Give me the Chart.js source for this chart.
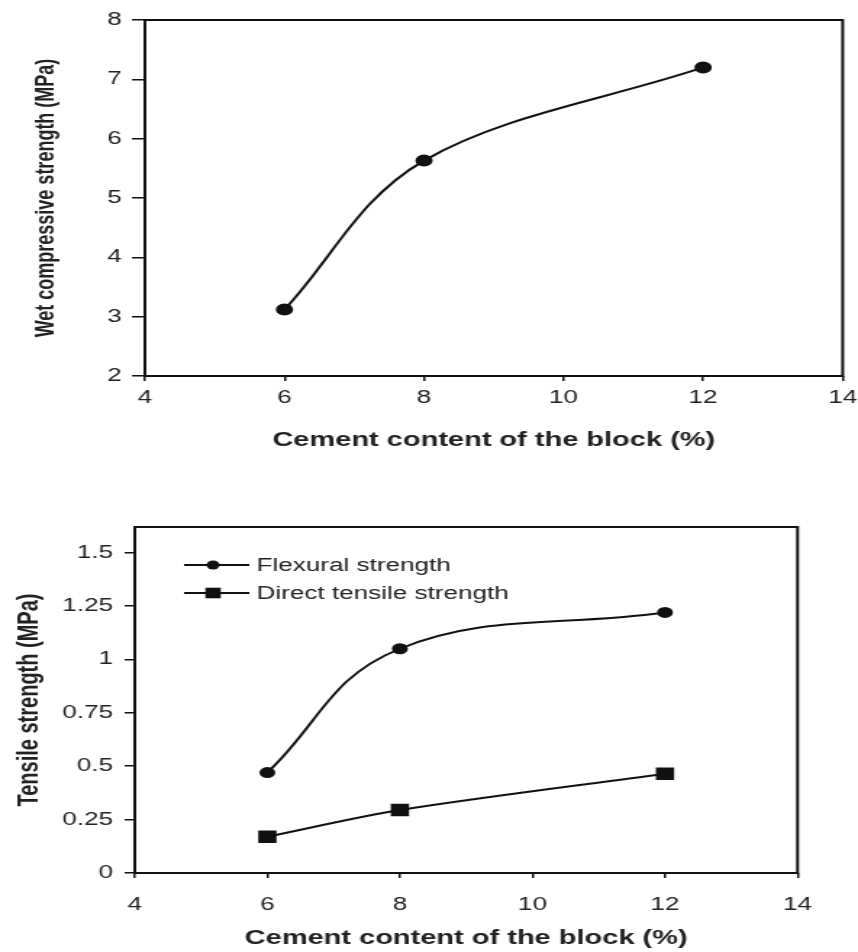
<!DOCTYPE html>
<html>
<head>
<meta charset="utf-8">
<script src="https://cdn.jsdelivr.net/npm/chart.js@4/dist/chart.umd.min.js"></script>
<style>
  body { margin: 0; background: #fff; }
  canvas { display: block; }
</style>
</head>
<body>
<!-- the original figure is stretched sideways, so the canvases are drawn narrow and widened by css -->
<canvas id="wetChart" width="592" height="470" style="width:858px;height:470px"></canvas>
<canvas id="tensileChart" width="592" height="482" style="width:858px;height:482px"></canvas>
<script>
// values
const cementContent = [6, 8, 12];
const wetCompressive = [3.12, 5.63, 7.2];
const flexural = [0.47, 1.05, 1.22];
const directTensile = [0.17, 0.295, 0.465];

const xTicks = [4, 6, 8, 10, 12, 14];
const yTicksTop = [2, 3, 4, 5, 6, 7, 8];
const yTicksBottom = [0, 0.25, 0.5, 0.75, 1, 1.25, 1.5];
const yLabelsBottom = ['0', '0.25', '0.5', '0.75', '1', '1.25', '1.5'];

const seriesNames = ['Flexural strength', 'Direct tensile strength'];

function toPoints(values) {
    return cementContent.map((x, i) => ({x: x, y: values[i]}));
}

const FONT = 'Liberation Sans, Arial, sans-serif';
const TEXT = '#222';

// box round the plot area
const frame = {
    id: 'frame',
    afterDatasetsDraw(chart) {
        const a = chart.chartArea;
        const ctx = chart.ctx;
        ctx.save();
        ctx.strokeStyle = '#111';
        ctx.lineWidth = 2;
        ctx.strokeRect(a.left, a.top, a.right - a.left, a.bottom - a.top);
        ctx.restore();
    }
};

// legend inside the plot, upper left
const innerLegend = {
    id: 'innerLegend',
    afterDraw(chart) {
        const a = chart.chartArea;
        const ctx = chart.ctx;
        chart.data.datasets.forEach((ds, i) => {
            const x = a.left + 34;
            const y = a.top + 38 + i * 28;
            ctx.save();
            ctx.strokeStyle = ds.borderColor;
            ctx.fillStyle = ds.pointBackgroundColor;
            ctx.lineWidth = 2;
            ctx.beginPath();
            ctx.moveTo(x, y);
            ctx.lineTo(x + 45, y);
            ctx.stroke();
            const r = ds.pointRadius;
            if (ds.pointStyle === 'rect') {
                const s = r * Math.SQRT1_2;
                ctx.fillRect(x + 20 - s, y - s, 2 * s, 2 * s);
            } else {
                ctx.beginPath();
                ctx.arc(x + 20, y, r, 0, Math.PI * 2);
                ctx.fill();
            }
            ctx.fillStyle = TEXT;
            ctx.font = '18px ' + FONT;
            ctx.textBaseline = 'middle';
            ctx.fillText(ds.label, x + 50, y + 1);
            ctx.restore();
        });
    }
};

function xScale(height, labelPad, titlePad) {
    return {
        type: 'linear',
        min: 4,
        max: 14,
        afterBuildTicks: (axis) => { axis.ticks = xTicks.map(v => ({value: v})); },
        afterFit: (axis) => { axis.height = height; axis.paddingLeft = 0; axis.paddingRight = 0; },
        grid: { display: true, drawOnChartArea: false, drawTicks: true, tickLength: 5, color: '#111', lineWidth: 1.5 },
        border: { display: false },
        ticks: { color: TEXT, padding: labelPad, maxRotation: 0, font: { family: FONT, size: 18 } },
        title: {
            display: true,
            text: 'Cement content of the block (%)',
            color: TEXT,
            font: { family: FONT, size: 20, weight: 'bold' },
            padding: { top: 0, bottom: titlePad }
        }
    };
}

new Chart(document.getElementById('wetChart'), {
    type: 'line',
    data: {
        datasets: [{
            label: 'Wet compressive strength',
            data: toPoints(wetCompressive),
            borderColor: '#111',
            borderWidth: 2,
            tension: 0.35,
            pointStyle: 'circle',
            pointRadius: 5,
            pointBackgroundColor: '#111',
            pointBorderColor: '#111'
        }]
    },
    options: {
        responsive: false,
        devicePixelRatio: 1,
        animation: false,
        layout: { padding: { left: 0, top: 20, right: 10.6, bottom: 0 } },
        plugins: { legend: { display: false }, tooltip: { enabled: false } },
        scales: {
            x: xScale(94, 6, 18),
            y: {
                min: 2,
                max: 8,
                afterBuildTicks: (axis) => { axis.ticks = yTicksTop.map(v => ({value: v})); },
                afterFit: (axis) => { axis.width = 100; axis.paddingTop = 0; axis.paddingBottom = 0; },
                grid: { display: true, drawOnChartArea: false, drawTicks: true, tickLength: 9, color: '#111', lineWidth: 1.5 },
                border: { display: false },
                ticks: { color: TEXT, padding: 7, font: { family: FONT, size: 18 } },
                title: {
                    display: true,
                    text: 'Wet compressive strength (MPa)',
                    color: TEXT,
                    font: { family: FONT, size: 18, weight: 'bold' },
                    padding: { top: 21, bottom: 0 }
                }
            }
        }
    },
    plugins: [frame]
});

new Chart(document.getElementById('tensileChart'), {
    type: 'line',
    data: {
        datasets: [{
            label: seriesNames[0],
            data: toPoints(flexural),
            borderColor: '#111',
            borderWidth: 2,
            tension: 0.4,
            pointStyle: 'circle',
            pointRadius: 4.5,
            pointBackgroundColor: '#111',
            pointBorderColor: '#111'
        }, {
            label: seriesNames[1],
            data: toPoints(directTensile),
            borderColor: '#111',
            borderWidth: 2,
            tension: 0.3,
            pointStyle: 'rect',
            pointRadius: 7.5,
            pointBackgroundColor: '#111',
            pointBorderColor: '#111'
        }]
    },
    options: {
        responsive: false,
        devicePixelRatio: 1,
        animation: false,
        layout: { padding: { left: 0, top: 57, right: 41.7, bottom: 0 } },
        plugins: { legend: { display: false }, tooltip: { enabled: false } },
        scales: {
            x: xScale(79, 16, 2),
            y: {
                min: 0,
                max: 1.62,
                afterBuildTicks: (axis) => { axis.ticks = yTicksBottom.map(v => ({value: v})); },
                afterFit: (axis) => { axis.width = 93; axis.paddingTop = 0; axis.paddingBottom = 0; },
                grid: { display: true, drawOnChartArea: false, drawTicks: true, tickLength: 7, color: '#111', lineWidth: 1.5 },
                border: { display: false },
                ticks: {
                    color: TEXT,
                    padding: 8,
                    font: { family: FONT, size: 18 },
                    callback: (value, index) => yLabelsBottom[index]
                },
                title: {
                    display: true,
                    text: 'Tensile strength (MPa)',
                    color: TEXT,
                    font: { family: FONT, size: 20, weight: 'bold' },
                    padding: { top: 8, bottom: 0 }
                }
            }
        }
    },
    plugins: [frame, innerLegend]
});
</script>
</body>
</html>
